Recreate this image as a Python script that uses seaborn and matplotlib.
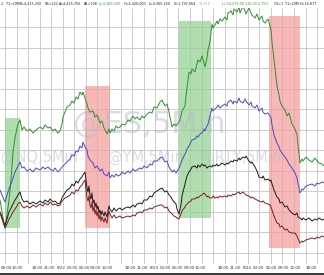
import matplotlib
matplotlib.use("Agg")
import matplotlib.pyplot as plt
from matplotlib.patches import Rectangle
import seaborn as sns
import pandas as pd
import numpy as np

# ---- data (bar position, chart level in screen units: smaller = higher) ----
es_pts = [(0,200),(2,212),(4,224),(5,228),(7,215),(9,200),(11,180),(13,152),(15,138),(17,128),(18,124),(20,120),(22,130),(24,127),(27,131),(30,129),(33,133),(36,130),(40,127),(43,129),(45,125),(48,128),(50,127),(53,131),(55,129),(58,133),(60,131),(62,124),(63,117),(65,112),(67,107),(70,105),(72,101),(74,103),(76,97),(78,99),(80,92),(82,95),(83,92),(85,98),(87,104),(88,108),(90,112),(93,111),(95,117),(97,115),(100,123),(102,121),(104,128),(107,134),(109,129),(110,133),(112,129),(114,131),(116,126),(118,128),(120,127),(122,124),(125,125),(128,120),(130,121),(133,116),(135,119),(137,117),(140,120),(142,116),(144,118),(147,114),(150,112),(152,113),(154,107),(157,108),(160,102),(162,100),(165,106),(167,104),(169,112),(171,122),(172,127),(174,124),(176,126),(179,122),(181,116),(182,111),(185,106),(186,96),(187,88),(189,72),(191,74),(192,69),(195,72),(197,64),(198,60),(200,62),(202,56),(204,63),(205,67),(207,58),(208,50),(210,42),(212,24),(213,28),(215,25),(217,21),(218,24),(220,19),(222,21),(225,17),(227,20),(228,13),(231,11),(233,15),(234,9),(237,12),(239,7),(240,13),(243,6),(245,11),(246,14),(249,8),(251,13),(252,15),(255,18),(257,14),(259,20),(262,16),(263,21),(265,23),(268,19),(270,26),(271,30),(272,42),(274,60),(277,86),(279,95),(280,101),(282,106),(285,110),(287,116),(289,113),(292,124),(295,129),(297,135),(298,145),(300,163),(302,159),(303,161),(306,157),(309,160),(312,162),(315,158),(317,161),(319,163),(322,164),(324,166)]

nq_pts = [(0,190),(2,195),(4,200),(5,202),(7,195),(9,189),(11,184),(13,178),(15,172),(17,168),(18,166),(20,162),(22,168),(24,167),(27,171),(30,169),(33,172),(36,168),(40,170),(43,167),(45,169),(48,167),(50,169),(53,171),(55,168),(58,172),(60,170),(62,167),(63,166),(65,164),(67,162),(70,159),(72,155),(74,156),(76,151),(78,152),(80,146),(82,148),(83,142),(85,147),(87,150),(88,156),(90,160),(93,163),(95,168),(97,166),(100,171),(102,169),(104,174),(107,176),(109,172),(110,178),(112,175),(114,177),(116,174),(118,176),(120,175),(122,172),(125,174),(128,171),(130,173),(133,169),(135,171),(137,170),(140,168),(142,169),(144,166),(147,168),(150,164),(152,165),(154,161),(157,161),(160,158),(162,157),(165,162),(167,161),(169,167),(171,170),(172,172),(174,170),(176,173),(179,168),(181,163),(182,160),(185,154),(186,152),(187,149),(189,146),(191,142),(192,140),(195,139),(197,136),(198,137),(200,134),(202,133),(204,129),(205,131),(207,126),(208,124),(210,116),(212,108),(213,111),(215,109),(217,107),(218,105),(220,108),(222,106),(225,104),(227,106),(228,102),(231,100),(233,104),(234,101),(237,103),(239,98),(240,101),(243,103),(245,99),(246,101),(249,105),(251,102),(252,106),(255,108),(257,105),(259,111),(262,108),(263,112),(265,114),(268,113),(270,116),(271,118),(272,125),(274,135),(277,143),(279,147),(280,150),(282,153),(285,157),(287,160),(289,164),(292,168),(295,173),(297,178),(298,184),(300,193),(302,189),(303,190),(306,186),(309,185),(312,184),(315,186),(317,183),(319,184),(322,182),(324,183)]

ym_pts = [(0,212),(2,217),(4,223),(5,225),(7,219),(9,212),(11,208),(13,204),(15,200),(17,197),(18,195),(20,192),(22,199),(24,202),(27,201),(30,204),(33,202),(36,204),(40,201),(43,203),(45,200),(48,202),(50,199),(53,202),(55,201),(58,204),(60,203),(62,198),(63,196),(65,193),(67,190),(70,188),(72,184),(74,186),(76,181),(78,183),(80,179),(82,177),(83,175),(85,172),(86,180),(87,188),(88,192),(89,186),(90,196),(91,199),(92,193),(93,203),(94,200),(95,207),(96,203),(97,209),(98,206),(99,213),(100,210),(101,215),(102,211),(104,216),(105,212),(107,217),(108,211),(109,206),(110,209),(112,212),(114,208),(116,211),(118,209),(120,208),(122,210),(125,208),(128,207),(130,208),(133,205),(135,207),(137,204),(140,203),(142,204),(144,200),(147,200),(150,196),(152,197),(154,193),(157,191),(160,189),(162,188),(165,192),(167,191),(169,195),(171,197),(172,199),(174,202),(176,204),(177,209),(179,214),(181,205),(182,196),(185,184),(186,180),(187,176),(189,172),(191,169),(192,167),(195,166),(197,168),(198,165),(200,167),(202,164),(204,166),(205,165),(207,168),(208,167),(210,166),(212,167),(213,165),(215,166),(217,164),(218,166),(220,165),(222,163),(225,165),(227,163),(228,164),(231,161),(233,162),(234,160),(237,161),(239,158),(240,160),(243,157),(245,158),(246,156),(249,161),(251,163),(252,162),(255,167),(257,171),(259,177),(262,178),(263,176),(265,180),(268,179),(270,181),(271,180),(272,184),(274,190),(277,197),(279,199),(280,203),(282,202),(285,207),(287,206),(289,210),(292,213),(295,215),(297,213),(298,217),(300,218),(302,220),(303,218),(306,220),(309,218),(312,221),(315,219),(317,220),(319,218),(322,220),(324,219)]

rty_pts = [(0,213),(2,219),(4,225),(5,228),(7,224),(9,219),(11,216),(13,212),(15,209),(17,206),(18,204),(20,202),(22,206),(24,208),(27,206),(30,208),(33,205),(36,207),(40,204),(43,206),(45,203),(48,205),(50,202),(53,205),(55,204),(58,206),(60,205),(62,201),(63,200),(65,198),(67,197),(70,195),(72,192),(74,194),(76,190),(78,191),(80,187),(82,185),(83,183),(85,180),(86,190),(87,198),(88,201),(89,196),(90,205),(91,208),(92,202),(93,211),(94,207),(95,214),(96,210),(97,216),(98,212),(99,219),(100,215),(101,221),(102,217),(104,222),(105,218),(107,223),(108,216),(109,211),(110,214),(112,218),(114,215),(116,218),(118,217),(120,216),(122,218),(125,217),(128,216),(130,217),(133,215),(135,216),(137,213),(140,212),(142,213),(144,210),(147,210),(150,208),(152,209),(154,207),(157,206),(160,205),(162,205),(165,208),(167,207),(169,211),(171,213),(172,214),(174,216),(176,217),(177,218),(179,219),(181,214),(182,211),(185,207),(186,205),(187,204),(189,202),(191,201),(192,199),(195,199),(197,197),(198,198),(200,196),(202,195),(204,193),(205,194),(207,197),(208,196),(210,198),(212,198),(213,196),(215,198),(217,197),(218,198),(220,196),(222,197),(225,196),(227,197),(228,195),(231,196),(233,194),(234,195),(237,193),(239,192),(240,194),(243,192),(245,194),(246,195),(249,196),(251,198),(252,197),(255,199),(257,200),(259,201),(262,202),(263,201),(265,203),(268,204),(270,205),(271,207),(272,210),(274,216),(277,223),(279,224),(280,227),(282,226),(285,230),(287,229),(289,232),(292,233),(295,233),(297,236),(298,239),(300,243),(302,241),(303,242),(306,240),(309,239),(312,238),(315,239),(317,237),(319,238),(322,236),(324,237)]

tick_pos = [6, 17.5, 37.5, 49, 61, 72.5, 84, 95, 107.5, 130.5, 142, 154, 165.5, 177, 189,
            200.5, 223, 235, 247.5, 258, 271.5, 283, 295, 311.5]
tick_labels = ["09:00", "12:00", "18:00", "21:00", "8/22", "03:00", "06:00", "09:00", "12:00",
               "18:00", "21:00", "8/23", "03:00", "06:00", "09:00", "12:00",
               "18:00", "21:00", "8/24", "03:00", "06:00", "09:00", "12:00", "18:00"]

series_names = ["@ES", "@NQ", "@YM", "@RTY"]
series_colors = ["#2f8f2f", "#4b4bc0", "#1c1c1c", "#7a1f1f"]

# green = buy zones, red = sell zones : (start, end, top, bottom)
green_zones = [(5, 20, 118, 228), (179, 211, 21, 218)]
red_zones = [(85, 110, 86, 228), (269, 300, 16, 248)]

# ---- figure ----
W, H = 324, 275
fig = plt.figure(figsize=(W / 100, H / 100), dpi=100)
fig.patch.set_facecolor("white")
sns.set_style("white")
ax = fig.add_axes([0, 11 / H, 1, 256 / H])
ax.set_facecolor("white")

frames = []
for name, pts in zip(series_names, [es_pts, nq_pts, ym_pts, rty_pts]):
    d = pd.DataFrame(pts, columns=["bar", "level"])
    d["symbol"] = name
    frames.append(d)
df = pd.concat(frames, ignore_index=True)

for (x0, x1, y0, y1) in green_zones:
    ax.add_patch(Rectangle((x0, y0), x1 - x0, y1 - y0, facecolor="#8fd08f", alpha=0.7,
                           edgecolor="none", zorder=1))
for (x0, x1, y0, y1) in red_zones:
    ax.add_patch(Rectangle((x0, y0), x1 - x0, y1 - y0, facecolor="#f59a9a", alpha=0.7,
                           edgecolor="none", zorder=1))

# watermarks
wm = dict(color="#b8b8c4", alpha=0.5, zorder=2, va="center")
ax.text(73, 125, "@ES,5Min", fontsize=22, ha="left", **wm)
ax.text(1, 157, "@NQ,5Min", fontsize=10.5, ha="left", **wm)
ax.text(108, 157, "@YM,5Min", fontsize=10.5, ha="left", **wm)
ax.text(190, 157, "- @RTY,5Min", fontsize=10.5, ha="left", **wm)

sns.lineplot(data=df, x="bar", y="level", hue="symbol", palette=series_colors,
             estimator=None, sort=False, linewidth=0.7, legend=False, ax=ax, zorder=3)

ax.set_xlim(0, W)
ax.set_ylim(264, 8)
ax.set_xlabel("")
ax.set_ylabel("")

ax.set_xticks(tick_pos)
ax.set_xticklabels(tick_labels)
ax.tick_params(axis="x", length=0, labelsize=2.9, pad=1.4, colors="#333333")
ax.set_yticks([])
ax.set_xticks(np.arange(5, 320, 11.56), minor=True)
ax.set_yticks(np.arange(27, 260, 20.55), minor=True)
ax.tick_params(which="minor", length=0)
ax.grid(which="minor", color="#c4c4c4", linewidth=0.6, zorder=0)
ax.set_axisbelow(True)
for s in ax.spines.values():
    s.set_visible(False)

# header quote strip
hdr = [(1, "2", "#222222"), (6, "T1=CME", "#222222"), (20, "0=4,415,250", "#222222"),
       (45, "BS=222", "#222222"), (59, "A=4,415,750", "#222222"), (84, "AS=108", "#222222"),
       (99, "L=4,380,000", "#3a9a3a"), (124, "H=4,420,000", "#222222"),
       (149, "L=4,365,250", "#222222"), (174, "V=1,797,064", "#222222"),
       (199, "14,456", "#aaaaaa"), (222, "L=14,579.00 116.00 0.75%", "#3a9a3a"),
       (274, "T4=1", "#222222"), (285, "T1=CME", "#222222"), (300, "H=14,877", "#222222")]
for x, t, c in hdr:
    fig.text(x / W, 1 - 4 / H, t, fontsize=2.4, color=c, ha="left", va="center")

fig.patches.append(Rectangle((0, 0), 1, 2.5 / H, transform=fig.transFigure,
                             facecolor="#3a3a3a", edgecolor="none"))

fig.savefig("out.png", dpi=100)
